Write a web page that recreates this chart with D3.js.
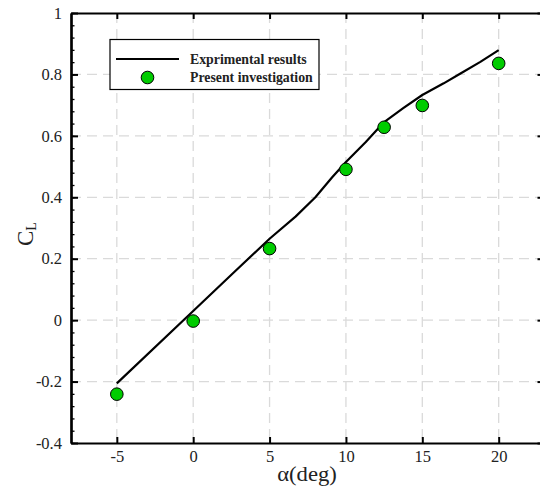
<!DOCTYPE html>
<html>
<head>
<meta charset="utf-8">
<script src="https://cdn.jsdelivr.net/npm/d3@7/dist/d3.min.js"></script>
<style>
  html, body { margin: 0; padding: 0; background: #fff; }
  svg, svg text { font-family: "Liberation Serif", "DejaVu Serif", serif; }
  svg { display: block; }
</style>
</head>
<body>
<svg id="chart" width="540" height="493"></svg>
<script>
// Experimental lift curve (angle of attack in degrees, lift coefficient)
const expAlpha = [-5, 0, 2.5, 5, 6.7, 8, 9.1, 10, 11.3, 12.5, 13.75, 15, 16.4, 17.5, 18.8, 20];
const expCL    = [-0.206, 0.03, 0.148, 0.265, 0.337, 0.40, 0.465, 0.515, 0.58, 0.645, 0.69, 0.733, 0.771, 0.803, 0.841, 0.879];

// Computed results
const presAlpha = [-5, 0, 5, 10, 12.5, 15, 20];
const presCL    = [-0.241, -0.003, 0.233, 0.491, 0.628, 0.699, 0.836];

// Axis ticks
const xTicks = [-5, 0, 5, 10, 15, 20];
const yTicks = [-0.4, -0.2, 0, 0.2, 0.4, 0.6, 0.8, 1];
const yGrid  = [-0.2, 0, 0.2, 0.4, 0.6, 0.8];
const yMinor = d3.range(-0.4, 1.0001, 0.04).map(v => +v.toFixed(2));

const legendLabels = ["Exprimental results", "Present investigation"];

const svg = d3.select("#chart");
const pLeft = 71, pRight = 544.5, pTop = 13, pBottom = 443;
const serif = "Liberation Serif";

const x = d3.scaleLinear().domain([-8, 23]).range([pLeft, pRight]);
const y = d3.scaleLinear().domain([-0.4, 1]).range([pBottom, pTop]);

// Dashed grid
const grid = svg.append("g").attr("stroke", "#dadada").attr("stroke-width", 1.3)
  .attr("stroke-dasharray", "10,6").attr("fill", "none");
grid.selectAll("line.v").data(xTicks).join("line").attr("class", "v")
  .attr("x1", d => x(d)).attr("x2", d => x(d)).attr("y1", pTop).attr("y2", pBottom);
grid.selectAll("line.h").data(yGrid).join("line").attr("class", "h")
  .attr("x1", pLeft).attr("x2", pRight).attr("y1", d => y(d)).attr("y2", d => y(d));

// Tick labels use a plain hyphen for negatives
const fmt = d => String(d);

// Axes with inward ticks
const axB = svg.append("g").attr("transform", `translate(0,${pBottom})`)
  .call(d3.axisBottom(x).tickValues(xTicks).tickSizeInner(-6).tickSizeOuter(0).tickPadding(7).tickFormat(fmt));
const axT = svg.append("g").attr("transform", `translate(0,${pTop})`)
  .call(d3.axisTop(x).tickValues(xTicks).tickSizeInner(-6).tickSizeOuter(0).tickFormat(""));
const axLminor = svg.append("g").attr("transform", `translate(${pLeft},0)`)
  .call(d3.axisLeft(y).tickValues(yMinor).tickSizeInner(-3.5).tickSizeOuter(0).tickFormat(""));
const axL = svg.append("g").attr("transform", `translate(${pLeft},0)`)
  .call(d3.axisLeft(y).tickValues(yTicks).tickSizeInner(-7).tickSizeOuter(0).tickPadding(9).tickFormat(fmt));
const axR = svg.append("g").attr("transform", `translate(${pRight},0)`)
  .call(d3.axisRight(y).tickValues(yTicks).tickSizeInner(-7).tickSizeOuter(0).tickFormat(""));
const axRminor = svg.append("g").attr("transform", `translate(${pRight},0)`)
  .call(d3.axisRight(y).tickValues(yMinor).tickSizeInner(-3.5).tickSizeOuter(0).tickFormat(""));

[axB, axT, axL, axR, axLminor, axRminor].forEach(g => {
  g.attr("font-family", serif).attr("font-size", 16.5);
  g.select(".domain").attr("stroke", "#000").attr("stroke-width", 2.2);
  g.selectAll(".tick line").attr("stroke", "#000").attr("stroke-width", 2);
  g.selectAll(".tick text").attr("fill", "#222");
});
axLminor.selectAll(".tick line").attr("stroke-width", 1.3);
axRminor.selectAll(".tick line").attr("stroke-width", 1.3);

// Experimental line
const line = d3.line().x(d => x(d[0])).y(d => y(d[1]));
svg.append("path").datum(d3.zip(expAlpha, expCL))
  .attr("d", line).attr("fill", "none").attr("stroke", "#000").attr("stroke-width", 2.2)
  .attr("stroke-linejoin", "round");

// Computed points
svg.append("g").selectAll("circle").data(d3.zip(presAlpha, presCL)).join("circle")
  .attr("cx", d => x(d[0])).attr("cy", d => y(d[1])).attr("r", 6.3)
  .attr("fill", "#00cc00").attr("stroke", "#000").attr("stroke-width", 1);

// Legend
const lg = svg.append("g");
lg.append("rect").attr("x", 110).attr("y", 39.5).attr("width", 209).attr("height", 50)
  .attr("fill", "#fff").attr("stroke", "#000").attr("stroke-width", 1.2);
lg.append("line").attr("x1", 116).attr("x2", 179).attr("y1", 59).attr("y2", 59)
  .attr("stroke", "#000").attr("stroke-width", 2.2);
lg.append("circle").attr("cx", 147.5).attr("cy", 77.5).attr("r", 6.3)
  .attr("fill", "#00cc00").attr("stroke", "#000").attr("stroke-width", 1);
lg.selectAll("text").data(legendLabels).join("text")
  .attr("x", 190).attr("y", (d, i) => 63.5 + i * 18)
  .attr("font-family", serif)
  .attr("font-size", 13.8).attr("font-weight", "bold").attr("fill", "#222").text(d => d);

// Axis titles
svg.append("text").attr("transform", "translate(307,481) scale(1.08,1)")
  .attr("text-anchor", "middle").attr("font-family", serif).attr("font-size", 21).attr("fill", "#222")
  .text("α(deg)");
const yt = svg.append("text").attr("transform", "translate(33,246) rotate(-90)")
  .attr("font-family", serif).attr("font-size", 23).attr("fill", "#222");
yt.append("tspan").text("C");
yt.append("tspan").attr("font-size", 14).attr("dy", 3).text("L");
</script>
</body>
</html>
